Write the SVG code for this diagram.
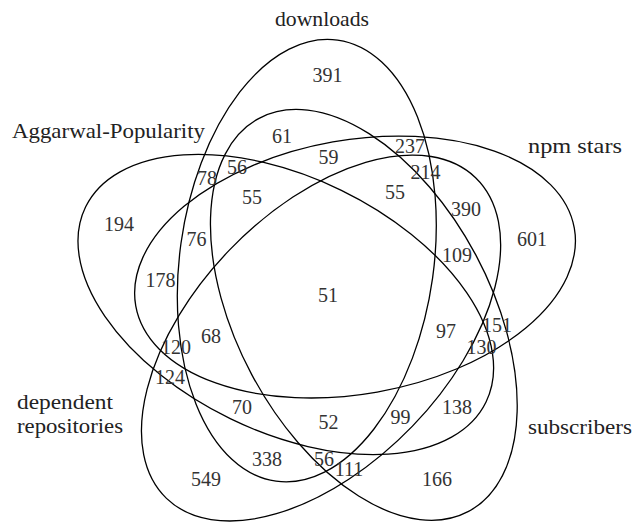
<svg xmlns="http://www.w3.org/2000/svg" width="644" height="525" viewBox="0 0 644 525">
<defs>
<style>
.set{fill:none;stroke:#000;stroke-width:1.3}
.lbl{font-family:'Liberation Serif','DejaVu Serif','Noto Serif',serif;font-size:21px;fill:#222}
.num{font-family:'Liberation Serif','DejaVu Serif','Noto Serif',serif;font-size:20px;fill:#333;text-anchor:middle}
</style>
<ellipse id="shape" cx="306.8" cy="260.6" rx="222.7" ry="127" transform="rotate(-82.05 306.8 260.6)"/>
</defs>
<rect width="644" height="525" fill="#fff"/>
<g id="downloads">
<use href="#shape" class="set"/>
<text class="lbl" font-family="Liberation Serif, DejaVu Serif, serif" x="275" y="26" textLength="94" lengthAdjust="spacingAndGlyphs">downloads</text>
</g>
<g id="npm-stars">
<use href="#shape" class="set" transform="rotate(72 326.5 297)"/>
<text class="lbl" font-family="Liberation Serif, DejaVu Serif, serif" x="528" y="153" textLength="94" lengthAdjust="spacingAndGlyphs">npm stars</text>
</g>
<g id="subscribers">
<use href="#shape" class="set" transform="rotate(144 326.5 297)"/>
<text class="lbl" font-family="Liberation Serif, DejaVu Serif, serif" x="528" y="434" textLength="104" lengthAdjust="spacingAndGlyphs">subscribers</text>
</g>
<g id="dependent-repositories">
<use href="#shape" class="set" transform="rotate(216 326.5 297)"/>
<text class="lbl" font-family="Liberation Serif, DejaVu Serif, serif" x="17" y="409" textLength="96" lengthAdjust="spacingAndGlyphs">dependent</text>
<text class="lbl" font-family="Liberation Serif, DejaVu Serif, serif" x="17" y="433" textLength="106" lengthAdjust="spacingAndGlyphs">repositories</text>
</g>
<g id="aggarwal-popularity">
<use href="#shape" class="set" transform="rotate(288 326.5 297)"/>
<text class="lbl" font-family="Liberation Serif, DejaVu Serif, serif" x="12" y="138" textLength="193" lengthAdjust="spacingAndGlyphs">Aggarwal-Popularity</text>
</g>
<g id="connectors"></g>
<g id="counts" font-family="Liberation Serif, DejaVu Serif, serif">
<text class="num" x="327.5" y="82">391</text>
<text class="num" x="282" y="143">61</text>
<text class="num" x="328.5" y="164">59</text>
<text class="num" x="410" y="153">237</text>
<text class="num" x="425.5" y="179">214</text>
<text class="num" x="237" y="174">56</text>
<text class="num" x="207" y="185">78</text>
<text class="num" x="252" y="204">55</text>
<text class="num" x="395" y="199">55</text>
<text class="num" x="119" y="231">194</text>
<text class="num" x="196.5" y="245.5">76</text>
<text class="num" x="160.5" y="286.5">178</text>
<text class="num" x="466" y="215.5">390</text>
<text class="num" x="532" y="245.5">601</text>
<text class="num" x="457" y="261.5">109</text>
<text class="num" x="328" y="301.5">51</text>
<text class="num" x="446" y="337.5">97</text>
<text class="num" x="497" y="332">151</text>
<text class="num" x="481.5" y="354">130</text>
<text class="num" x="211" y="342.5">68</text>
<text class="num" x="176" y="354">120</text>
<text class="num" x="170" y="384">124</text>
<text class="num" x="242" y="414">70</text>
<text class="num" x="328.5" y="429">52</text>
<text class="num" x="400.5" y="424">99</text>
<text class="num" x="457" y="414">138</text>
<text class="num" x="267" y="465.5">338</text>
<text class="num" x="324" y="465.5">56</text>
<text class="num" x="349" y="476">111</text>
<text class="num" x="206" y="485.5">549</text>
<text class="num" x="437" y="485.5">166</text>
</g>
</svg>
